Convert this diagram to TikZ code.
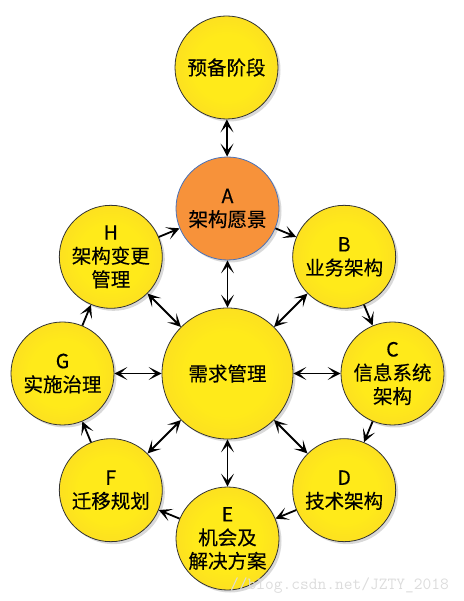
\documentclass[tikz,border=0pt]{standalone}
\usepackage{fontspec}
\usepackage{xcolor}
\usepackage{tikz}
\usetikzlibrary{arrows.meta, shadows}
\newfontfamily\cjk[FakeBold=0.3]{Noto Sans CJK SC}
\definecolor{sunyellow}{HTML}{FFEA1A}
\definecolor{sungold}{HTML}{F5C630}
\definecolor{visionorange}{HTML}{F7923A}
\definecolor{visionblue}{HTML}{4A72B8}
\definecolor{markgray}{HTML}{DCDCDC}
\pgfdeclareradialshading{sunball}{\pgfpointorigin}{color(0bp)=(sunyellow); color(16bp)=(sunyellow); color(50bp)=(sungold)}

\begin{document}
\begin{tikzpicture}[x=1pt, y=1pt, font=\cjk\fontsize{19.5}{23.5}\selectfont,
  disc/.style={circle, line width=0.8pt, minimum size=103pt, inner sep=0pt, align=center,
    drop shadow={shadow xshift=2.5pt, shadow yshift=-2.5pt, opacity=0.3}},
  phase/.style={disc, draw=black!80, shading=sunball},
  vision/.style={disc, fill=visionorange, draw=visionblue},
  link/.style={-{Stealth[length=13pt, width=13pt, inset=7pt]}, line width=1.8pt},
  both/.style={{Stealth[length=13pt, width=13pt, inset=7pt]}-{Stealth[length=13pt, width=13pt, inset=7pt]}, line width=1.8pt}]
  \useasboundingbox (-227.5,-227.5) rectangle (235.5,373.5);
  % the cycle round the requirements
  \node[phase, minimum size=131pt] (req) at (0,0) {需求管理};
  \node[phase] (prep) at (-1,306) {预备阶段};
  \node[vision] (a) at (90:165) {A\\架构愿景};
  \node[phase] (b) at (45:165) {B\\业务架构};
  \node[phase] (c) at (0:165) {C\\信息系统\\架构};
  \node[phase] (d) at (-45:165) {D\\技术架构};
  \node[phase] (e) at (-90:165) {E\\机会及\\解决方案};
  \node[phase] (f) at (-135:165) {F\\迁移规划};
  \node[phase] (g) at (180:165) {G\\实施治理};
  \node[phase] (h) at (135:165) {H\\架构变更\\管理};
  \draw[both] (prep) -- (a);
  \draw[link] (a) -- (b);
  \draw[link] (b) -- (c);
  \draw[link] (c) -- (d);
  \draw[link] (d) -- (e);
  \draw[link] (e) -- (f);
  \draw[link] (f) -- (g);
  \draw[link] (g) -- (h);
  \draw[link] (h) -- (a);
  % requirements to every phase
  \draw[both] (req) -- (a);
  \draw[both] (req) -- (b);
  \draw[both] (req) -- (c);
  \draw[both] (req) -- (d);
  \draw[both] (req) -- (e);
  \draw[both] (req) -- (f);
  \draw[both] (req) -- (g);
  \draw[both] (req) -- (h);
  \node[anchor=base east, text=markgray, font=\ttfamily\fontsize{17}{17}\selectfont] (mark) at (225,-216) {//blog.csdn.net/JZTY\_2018};
\end{tikzpicture}
\end{document}
